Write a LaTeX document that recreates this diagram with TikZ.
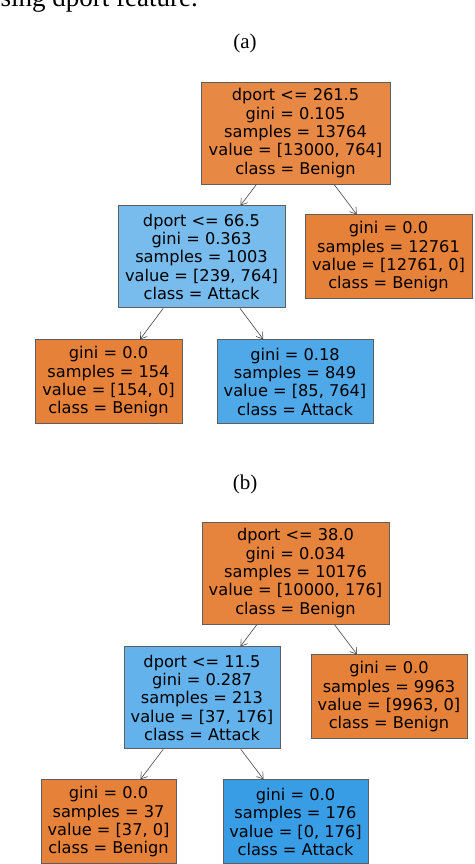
\documentclass[tikz,border=0pt]{standalone}
\usepackage{fontspec}
\setmainfont{Liberation Serif}
\newfontfamily\treefont{DejaVu Sans}
\usepackage{tikz}
\usetikzlibrary{arrows.meta, positioning}
\definecolor{edgegray}{HTML}{5E5E5E}
\definecolor{arrowgray}{HTML}{444444}
\definecolor{benpure}{HTML}{E58139}
\definecolor{benrootA}{HTML}{E78845}
\definecolor{benrootB}{HTML}{E6833D}
\definecolor{attpure}{HTML}{399DE5}
\definecolor{attsplitA}{HTML}{77BCED}
\definecolor{attsplitB}{HTML}{63B2EB}
\definecolor{attleafA}{HTML}{4FA8E8}

\begin{document}
\begin{tikzpicture}[
  x=1pt, y=-1pt,
  node distance=21pt,
  box/.style={draw=edgegray, line width=0.9pt, inner sep=0pt,
              minimum height=102pt, align=center,
              font=\treefont\fontsize{16.2}{18.3}\selectfont},
  leaf/.style={box, minimum height=84pt},
  captext/.style={inner sep=0pt, font=\fontsize{21}{24}\selectfont},
  arr/.style={-{Straight Barb[length=6pt, width=8pt]}, line width=0.6pt, color=arrowgray}
]
  \useasboundingbox (0,0) rectangle (474,864);

  % running text cut off at the top
  \node[captext, font=\fontsize{27}{30}\selectfont, anchor=base east] (lead) at (198,7)
    {using dport feature.};

  % tree (a)
  \node[captext, anchor=base] (capA) at (245,49) {(a)};
  \node[box, fill=benrootA, minimum width=189pt] (rootA) at (295.5,133)
    {dport <= 261.5\\gini = 0.105\\samples = 13764\\value = [13000, 764]\\class = Benign};
  \node[box, fill=attsplitA, minimum width=167pt, below=21pt of rootA, xshift=-94pt] (attackA)
    {dport <= 66.5\\gini = 0.363\\samples = 1003\\value = [239, 764]\\class = Attack};
  \node[leaf, fill=benpure, minimum width=167pt, below=30pt of rootA, xshift=93pt] (benignA)
    {gini = 0.0\\samples = 12761\\value = [12761, 0]\\class = Benign};
  \node[leaf, fill=benpure, minimum width=147pt, below=31pt of attackA, xshift=-93pt] (leafBenA)
    {gini = 0.0\\samples = 154\\value = [154, 0]\\class = Benign};
  \node[leaf, fill=attleafA, minimum width=156pt, below=31pt of attackA, xshift=93.5pt] (leafAttA)
    {gini = 0.18\\samples = 849\\value = [85, 764]\\class = Attack};

  \draw[arr] (rootA) -- (attackA);
  \draw[arr] (rootA) -- (benignA);
  \draw[arr] (attackA) -- (leafBenA);
  \draw[arr] (attackA) -- (leafAttA);

  % tree (b)
  \node[captext, anchor=base] (capB) at (245,489) {(b)};
  \node[box, fill=benrootB, minimum width=187pt] (rootB) at (295.5,573)
    {dport <= 38.0\\gini = 0.034\\samples = 10176\\value = [10000, 176]\\class = Benign};
  \node[box, fill=attsplitB, minimum width=156pt, below=22pt of rootB, xshift=-93.5pt] (attackB)
    {dport <= 11.5\\gini = 0.287\\samples = 213\\value = [37, 176]\\class = Attack};
  \node[leaf, fill=benpure, minimum width=156pt, below=30pt of rootB, xshift=93.5pt] (benignB)
    {gini = 0.0\\samples = 9963\\value = [9963, 0]\\class = Benign};
  \node[leaf, fill=benpure, minimum width=135pt, below=30pt of attackB, xshift=-93.5pt] (leafBenB)
    {gini = 0.0\\samples = 37\\value = [37, 0]\\class = Benign};
  \node[leaf, fill=attpure, minimum width=145pt, below=30pt of attackB, xshift=93.5pt] (leafAttB)
    {gini = 0.0\\samples = 176\\value = [0, 176]\\class = Attack};

  \draw[arr] (rootB) -- (attackB);
  \draw[arr] (rootB) -- (benignB);
  \draw[arr] (attackB) -- (leafBenB);
  \draw[arr] (attackB) -- (leafAttB);
\end{tikzpicture}
\end{document}
